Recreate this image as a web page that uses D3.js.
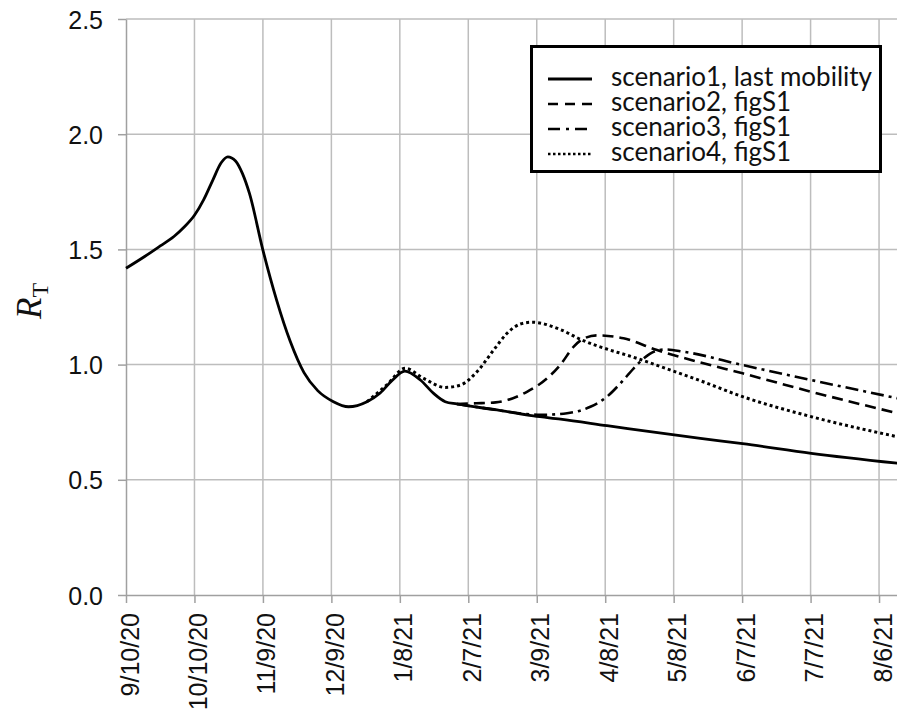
<!DOCTYPE html>
<html>
<head>
<meta charset="utf-8">
<script src="https://cdn.jsdelivr.net/npm/d3@7"></script>
<style>
  html, body { margin: 0; padding: 0; background: #fff; }
  svg { display: block; }
</style>
</head>
<body>
<svg id="chart" width="897" height="710"></svg>
<script>
// Tick labels on the date axis, one every 30 days from 9/10/20
const tickLabels = ["9/10/20", "10/10/20", "11/9/20", "12/9/20", "1/8/21", "2/7/21",
                    "3/9/21", "4/8/21", "5/8/21", "6/7/21", "7/7/21", "8/6/21"];
const tickDays = [0, 30, 60, 90, 120, 150, 180, 210, 240, 270, 300, 330];
const yTicks = [0.0, 0.5, 1.0, 1.5, 2.0, 2.5];

// Series as [days since 9/10/20, R_T]
const history = [
  [0, 1.418], [8, 1.468], [15, 1.515], [21, 1.556], [25.5, 1.597], [30, 1.648],
  [34, 1.715], [38, 1.8], [41.7, 1.876], [44.6, 1.902], [48, 1.884], [51, 1.83],
  [54.1, 1.743], [60, 1.497], [66, 1.28], [72, 1.1], [78, 0.965], [84, 0.887],
  [90.9, 0.839], [97.5, 0.817], [105.6, 0.839], [111.4, 0.877], [116.5, 0.93],
  [122.2, 0.972], [129, 0.933], [134.8, 0.875], [139.9, 0.839], [145, 0.829]
];
const scenario1 = [
  [145, 0.829], [162.6, 0.803], [178.6, 0.777], [190.4, 0.763], [210.8, 0.735],
  [251.7, 0.68], [270.2, 0.657], [300.3, 0.615], [338, 0.572]
];
const scenario2 = [
  [145, 0.829], [153.5, 0.832], [162, 0.836], [167, 0.846], [175.7, 0.882], [184.5, 0.94],
  [190.4, 1.0], [196.2, 1.078], [200, 1.11], [206.4, 1.127], [218, 1.114], [232.7, 1.063],
  [250.3, 1.013], [270.2, 0.962], [300.3, 0.882], [338, 0.789]
];
const scenario3 = [
  [145, 0.829], [162.6, 0.803], [175, 0.786], [181.6, 0.782], [193.3, 0.789], [203.5, 0.817],
  [210.8, 0.861], [216.7, 0.919], [222.5, 0.984], [226.9, 1.027], [232.7, 1.061],
  [236.4, 1.066], [244.4, 1.056], [270.2, 0.998], [300.3, 0.933], [338, 0.854]
];
const scenario4 = [
  [105.6, 0.839], [114.3, 0.912], [122.4, 0.984], [130.4, 0.94], [139.9, 0.901],
  [146.5, 0.911], [153.8, 0.969], [161.1, 1.063], [167, 1.136], [172.8, 1.176],
  [177.9, 1.184], [190.4, 1.152], [199.1, 1.11], [225.4, 1.022], [251.7, 0.93],
  [270.2, 0.861], [300.3, 0.774], [338, 0.687]
];
const legendLabels = ["scenario1, last mobility", "scenario2, figS1", "scenario3, figS1", "scenario4, figS1"];

const svg = d3.select("#chart");
const plotLeft = 126, plotTop = 19, plotBottom = 595, plotRight = 897.3;

const x = d3.scaleLinear().domain([0, 338]).range([plotLeft, plotRight]);
const y = d3.scaleLinear().domain([0, 2.5]).range([plotBottom, plotTop]);

// grid
const grid = svg.append("g").attr("stroke", "#bdbdbd").attr("stroke-width", 1.5);
grid.selectAll("line.v").data(tickDays.slice(1)).join("line").attr("class", "v")
  .attr("x1", d => x(d)).attr("x2", d => x(d)).attr("y1", plotTop).attr("y2", plotBottom);
grid.selectAll("line.h").data(yTicks.slice(1)).join("line").attr("class", "h")
  .attr("x1", plotLeft).attr("x2", 897).attr("y1", d => y(d)).attr("y2", d => y(d));

// axes
const xAxis = svg.append("g").attr("transform", `translate(0,${plotBottom})`)
  .call(d3.axisBottom(x).tickValues(tickDays).tickSize(8).tickSizeOuter(0)
    .tickFormat((d, i) => tickLabels[i]));
xAxis.select(".domain").attr("stroke", "#a0a0a0").attr("stroke-width", 1.5)
  .attr("d", `M${plotLeft},0.5H897`);
xAxis.selectAll(".tick line").attr("stroke", "#a0a0a0").attr("stroke-width", 1.5);
xAxis.selectAll(".tick text")
  .attr("font-family", "Liberation Sans, Arial, sans-serif").attr("font-size", 25)
  .attr("fill", "#111")
  .attr("text-anchor", "end")
  .attr("transform", "rotate(-90)")
  .attr("x", -18).attr("y", 3).attr("dy", "0.36em").attr("dx", 0);

const yAxis = svg.append("g").attr("transform", `translate(${plotLeft},0)`)
  .call(d3.axisLeft(y).tickValues(yTicks).tickSize(8).tickSizeOuter(0).tickFormat(d3.format(".1f")));
yAxis.select(".domain").attr("stroke", "#a0a0a0").attr("stroke-width", 1.5);
yAxis.selectAll(".tick line").attr("stroke", "#a0a0a0").attr("stroke-width", 1.5);
yAxis.selectAll(".tick text")
  .attr("font-family", "Liberation Sans, Arial, sans-serif").attr("font-size", 25)
  .attr("fill", "#111").attr("x", -23).attr("dy", "0.36em");

// axis title R_T
const title = svg.append("text")
  .attr("transform", "translate(41,319) rotate(-90)")
  .attr("font-family", "Liberation Serif, Times New Roman, serif")
  .attr("font-size", 35).attr("fill", "#111");
title.append("tspan").attr("font-style", "italic").text("R");
title.append("tspan").attr("font-size", 24).attr("dy", 7).text("T");

// lines
const line = d3.line().x(d => x(d[0])).y(d => y(d[1])).curve(d3.curveMonotoneX);
const styles = [
  { data: history.concat(scenario1.slice(1)), dash: null, w: 2.8 },
  { data: scenario2, dash: "11,6", w: 2.6 },
  { data: scenario3, dash: "13,5,3,5", w: 2.6 },
  { data: scenario4, dash: "3,3", w: 3 }
];
svg.append("g").selectAll("path").data(styles).join("path")
  .attr("d", d => line(d.data))
  .attr("fill", "none").attr("stroke", "#000")
  .attr("stroke-width", d => d.w)
  .attr("stroke-dasharray", d => d.dash);

// legend
const lg = svg.append("g");
lg.append("rect").attr("x", 531.5).attr("y", 46.5).attr("width", 349).attr("height", 125)
  .attr("fill", "#fff").attr("stroke", "#000").attr("stroke-width", 3);
const legendDash = [null, "10,7", "12,6,3,6", "2.5,2.5"];
const legendWidth = [2.8, 2.6, 2.6, 2.6];
const rows = lg.selectAll("g.row").data(legendLabels).join("g").attr("class", "row")
  .attr("transform", (d, i) => `translate(0,${79 + i * 25})`);
rows.append("line").attr("x1", 548).attr("x2", 592).attr("y1", 0).attr("y2", 0)
  .attr("stroke", "#000").attr("stroke-width", (d, i) => legendWidth[i])
  .attr("stroke-dasharray", (d, i) => legendDash[i]);
rows.append("text").attr("x", 611).attr("y", 7)
  .attr("font-family", "Lato, 'Open Sans', sans-serif").attr("font-size", 26)
  .attr("fill", "#111").text(d => d);
</script>
</body>
</html>
